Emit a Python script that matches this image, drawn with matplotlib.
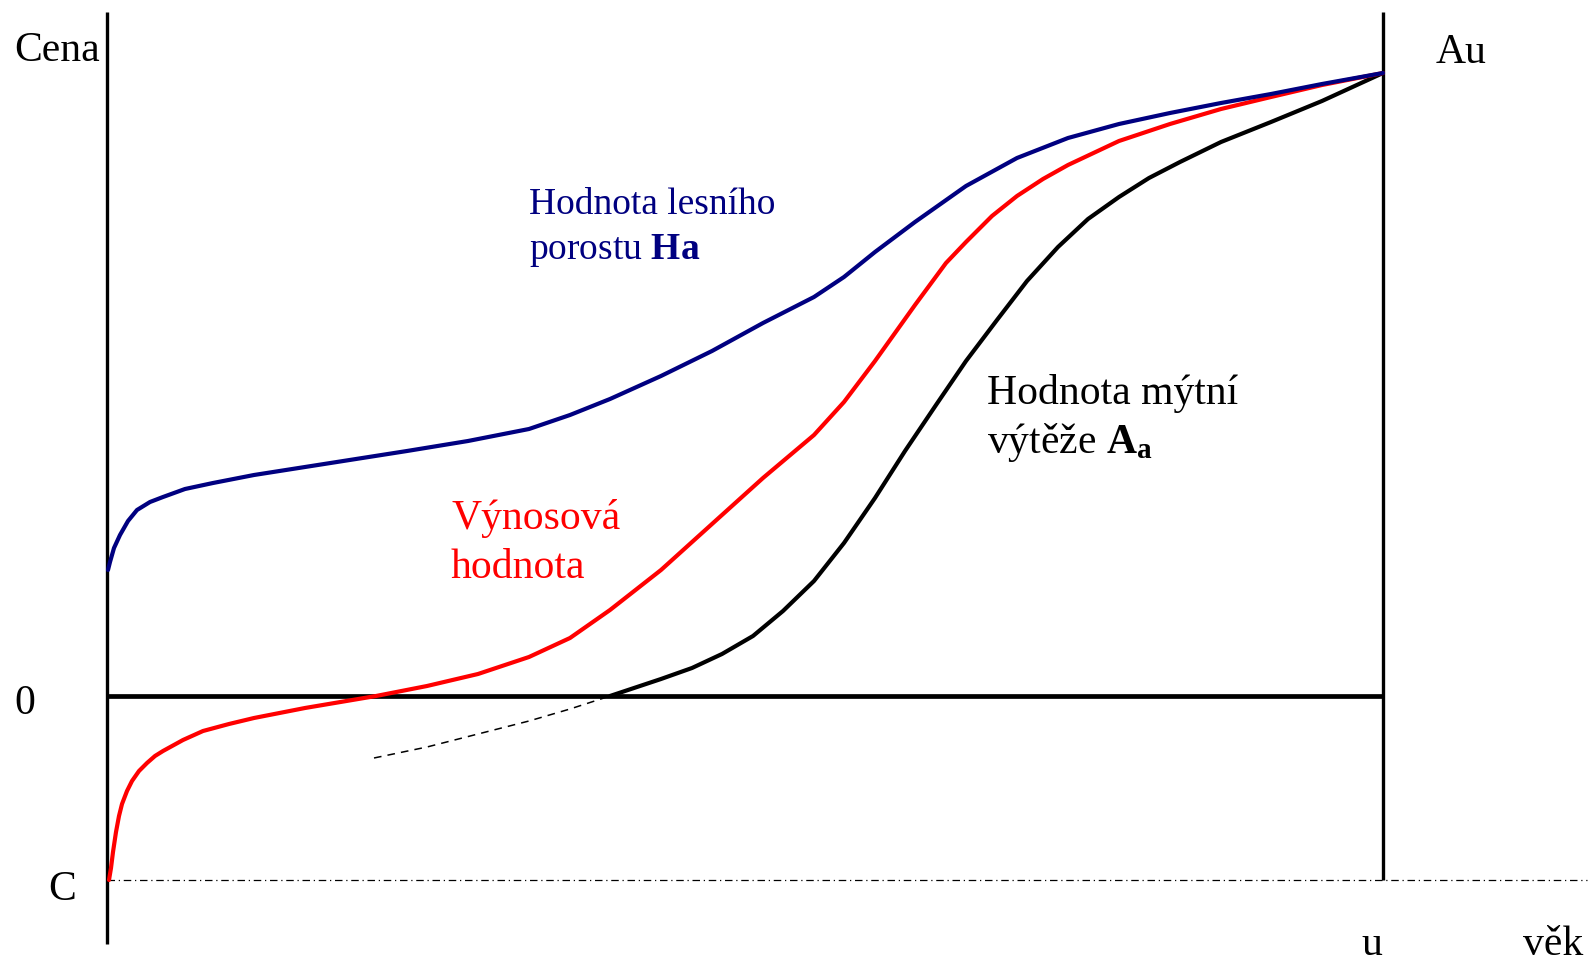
import matplotlib.pyplot as plt

plt.rcParams['font.family'] = ['Liberation Serif', 'DejaVu Serif']
plt.rcParams['mathtext.fontset'] = 'custom'
plt.rcParams['mathtext.rm'] = 'Liberation Serif'
plt.rcParams['mathtext.bf'] = 'Liberation Serif:bold'

# Coordinates (pixel space, y grows downwards)
# Hodnota lesniho porostu Ha (blue)
blue_x = [108, 110, 114, 120, 128, 137, 150, 163, 185, 213, 254, 305, 356, 407,
          468, 529, 570, 610, 661, 712, 763, 814, 844, 875, 915, 966, 1017,
          1068, 1119, 1170, 1221, 1271, 1322, 1383]
blue_y = [570, 562, 548, 535, 521, 510, 502, 497, 489, 483, 475, 467, 459, 451,
          441, 429, 415, 399, 376, 351, 323, 297, 277, 252, 222, 186, 158,
          138, 124, 113, 103, 94, 84, 73]

# Vynosova hodnota (red)
red_x = [109, 111, 113, 116, 119, 122, 127, 132, 139, 147, 155, 163, 183, 203,
         229, 254, 305, 376, 427, 478, 529, 570, 610, 661, 712, 763, 814, 844,
         875, 915, 946, 966, 992, 1017, 1043, 1068, 1119, 1170, 1221, 1271,
         1322, 1383]
red_y = [880, 868, 852, 832, 816, 804, 791, 781, 771, 763, 756, 751, 740, 731,
         724, 718, 708, 696, 686, 674, 657, 638, 610, 570, 524, 478, 435, 402,
         361, 305, 263, 242, 216, 196, 179, 165, 141, 124, 109, 97, 85, 73]

# Hodnota mytni vyteze Aa (black)
black_x = [610, 631, 661, 692, 722, 753, 783, 814, 844, 875, 905, 936, 966,
           997, 1027, 1058, 1088, 1119, 1149, 1180, 1221, 1271, 1322, 1383]
black_y = [696, 689, 679, 668, 654, 636, 611, 581, 543, 498, 451, 405, 361,
           320, 281, 247, 219, 197, 178, 162, 142, 122, 101, 73]

# negative part of Aa (dashed)
dash_x = [374, 427, 478, 529, 570, 610]
dash_y = [758, 747, 734, 721, 709, 696]

fig = plt.figure(figsize=(15.95, 9.66), dpi=100)
ax = fig.add_axes([0, 0, 1, 1])
ax.set_xlim(0, 1595)
ax.set_ylim(966, 0)
ax.axis('off')

# axes of the scheme
ax.plot([107, 107], [12, 944], color='black', lw=2.4, solid_capstyle='butt')
ax.plot([1383, 1383], [12, 880], color='black', lw=2.4, solid_capstyle='butt')
ax.plot([107, 1383], [696, 696], color='black', lw=3.4, solid_capstyle='butt')
ax.plot([107, 1587], [880, 880], color='black', lw=0.9, linestyle=(0, (6, 3, 1, 3)))

# curves
ax.plot(dash_x, dash_y, color='black', lw=1.1, linestyle=(0, (5, 4)))
style = dict(lw=3.0, solid_joinstyle='round', solid_capstyle='round')
ax.plot(black_x, black_y, color='black', **style)
ax.plot(red_x, red_y, color='#ff0000', **style)
ax.plot(blue_x, blue_y, color='#000080', **style)

fs = 30
ax.text(14, 61, 'Cena', fontsize=fs, va='baseline')
ax.text(1436, 63, 'Au', fontsize=fs, va='baseline')
ax.text(14, 714, '0', fontsize=fs, va='baseline')
ax.text(48, 900, 'C', fontsize=fs, va='baseline')
ax.text(1361, 955, 'u', fontsize=fs, va='baseline')
ax.text(1523, 955, 'věk', fontsize=fs, va='baseline')

ax.text(529, 214, 'Hodnota lesního', fontsize=27, color='#000080', va='baseline')
ax.text(529, 259, r'porostu $\mathbf{Ha}$', fontsize=27, color='#000080', va='baseline')

ax.text(451, 529, 'Výnosová', fontsize=fs, color='#ff0000', va='baseline')
ax.text(451, 578, 'hodnota', fontsize=fs, color='#ff0000', va='baseline')

ax.text(987, 404, 'Hodnota mýtní', fontsize=fs, va='baseline')
ax.text(987, 453, r'výtěže $\mathbf{A_a}$', fontsize=fs, va='baseline')

fig.savefig('out.png', dpi=100)
